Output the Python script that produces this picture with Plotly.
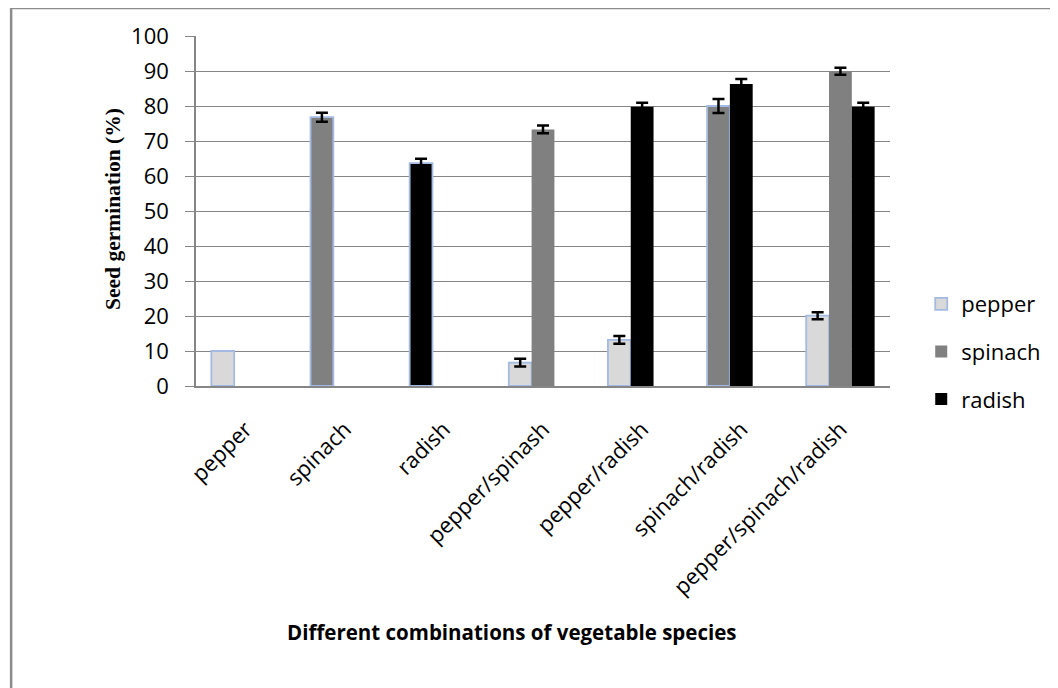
import numpy as np
import plotly.graph_objects as go

categories = ["pepper", "spinach", "radish", "pepper/spinash",
              "pepper/radish", "spinach/radish", "pepper/spinach/radish"]
species = ["pepper", "spinach", "radish"]

pepper = [10.0, None, None, 6.7, 13.2, None, 20.1]
pepper_err = [None, None, None, 1.1, 1.1, None, 1.0]
spinach = [None, 76.8, None, 73.3, None, 80.0, 89.9]
spinach_err = [None, 1.3, None, 1.1, None, 2.0, 1.0]
radish = [None, None, 63.7, None, 79.8, 86.3, 79.8]
radish_err = [None, None, 1.2, None, 1.1, 1.4, 1.1]

y_ticks = [0, 10, 20, 30, 40, 50, 60, 70, 80, 90, 100]

values = {"pepper": pepper, "spinach": spinach, "radish": radish}
errors = {"pepper": pepper_err, "spinach": spinach_err, "radish": radish_err}
fills = {"pepper": "#d9d9d9", "spinach": "#808080", "radish": "#000000"}

BAR_W = 0.23
EDGE = "#a3bbe2"
FONT = "Open Sans"

# page geometry (the page body adds an 8px offset)
PX_L, PX_R, PX_T, PX_B = 196, 898, 36, 386
PW, PH = PX_R - PX_L, PX_B - PX_T


def px(xp):
    return (xp - PX_L) / PW


def py(yp):
    return (PX_B - yp) / PH


# slot of each species inside its category (bars fill slots left to right)
slots = {s: [] for s in species}
for i in range(len(categories)):
    present = [s for s in species if values[s][i] is not None]
    for s in species:
        slots[s].append(present.index(s) if s in present else None)

fig = go.Figure()
for k, s in enumerate(species):
    offs = [-1.5 * BAR_W + (sl or 0) * BAR_W for sl in slots[s]]
    line_cols = [EDGE if sl == 0 else fills[s] for sl in slots[s]]
    line_w = [1.8 if sl == 0 else 0 for sl in slots[s]]
    fig.add_trace(go.Bar(
        name=s,
        x=categories,
        y=np.array(values[s], dtype=float),
        width=BAR_W,
        offset=offs,
        marker=dict(color=fills[s], line=dict(color=line_cols, width=line_w)),
        error_y=dict(type="data", array=np.array(errors[s], dtype=float),
                     visible=True, color="black", thickness=2.5, width=6),
        legendgroup=s,
    ))

fig.update_layout(
    width=1050, height=680,
    margin=dict(l=PX_L - 8, r=1058 - PX_R, t=PX_T - 8, b=688 - PX_B),
    paper_bgcolor="white", plot_bgcolor="white",
    showlegend=True,
    legend=dict(x=1.045, y=0.294, xanchor="left", yanchor="top",
                font=dict(family=FONT, size=22, color="black"),
                tracegroupgap=16, traceorder="grouped",
                bgcolor="rgba(0,0,0,0)"),
    xaxis=dict(type="category", range=[-0.5, 6.5], tickangle=-45,
               tickfont=dict(family=FONT, size=22, color="black"),
               showgrid=False, showline=True, linecolor="#868686", linewidth=1.5,
               ticks="", ticklabelstandoff=20),
    yaxis=dict(range=[0, 100], tickvals=y_ticks, showgrid=True,
               gridcolor="#868686", gridwidth=1.3,
               showline=True, linecolor="#868686", linewidth=1.5,
               ticks="outside", ticklen=9, tickcolor="#868686", tickwidth=1.3,
               tickfont=dict(family=FONT, size=22, color="black"),
               ticklabelstandoff=12, zeroline=False),
    font=dict(family=FONT, color="black"),
)

fig.add_annotation(text="<b>Different combinations of vegetable species</b>",
                   xref="paper", yref="paper",
                   x=px(516), y=py(632),
                   xanchor="center", yanchor="middle", showarrow=False,
                   font=dict(family=FONT, size=20.5, color="black"))
fig.add_annotation(text="<b>Seed germination (%)</b>",
                   xref="paper", yref="paper",
                   x=px(112), y=py(209),
                   xanchor="center", yanchor="middle", showarrow=False,
                   textangle=-90,
                   font=dict(family="Liberation Serif", size=21.5, color="black"))

# outer chart frame (only the left and top edges are visible in the picture)
fig.add_shape(type="rect", xref="paper", yref="paper",
              x0=px(9), x1=1.6, y0=-1.5, y1=py(8),
              line=dict(color="#8c8c8c", width=2.5), fillcolor="rgba(0,0,0,0)",
              layer="below")

fig.write_html("out.html")
